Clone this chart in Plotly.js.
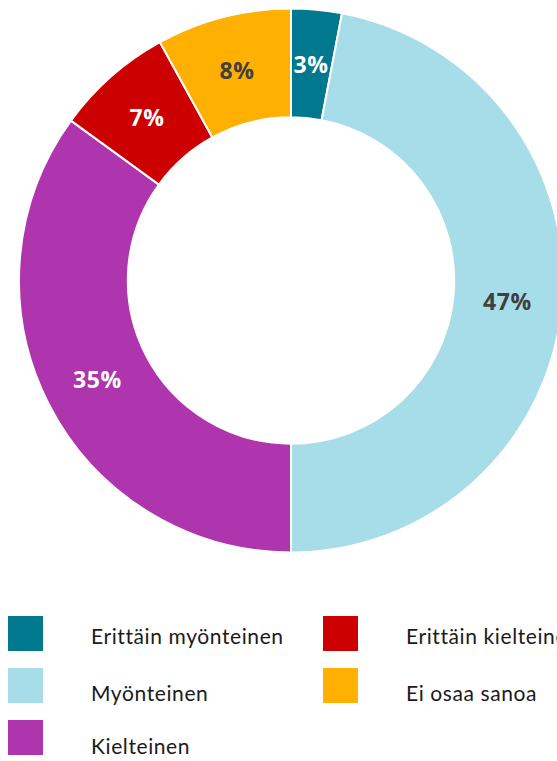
<!DOCTYPE html>
<html>
<head>
<meta charset="utf-8">
<script src="https://cdn.plot.ly/plotly-3.0.1.min.js"></script>
<style>
html,body{margin:0;padding:0;overflow:hidden;background:#fff;}
#chart{width:582px;height:761px;}
g.annotation text.annotation-text{letter-spacing:0.6px;}
</style>
</head>
<body>
<div id="chart"></div>
<script>
// Data
const categories = ["Erittäin myönteinen", "Myönteinen", "Kielteinen", "Erittäin kielteinen", "Ei osaa sanoa"];
const values = [3, 47, 35, 7, 8];
const colors = ["#00788E", "#A6DDE8", "#AE35AE", "#CC0000", "#FFB000"];
const labelColors = ["#ffffff", "#404040", "#ffffff", "#ffffff", "#404040"];

// Legend layout (column, row) per category
const legendCol = [0, 0, 0, 1, 1];
const legendRow = [0, 1, 2, 0, 1];

const W = 582, H = 761;
const colSquareX = [8, 323];
const colTextX = [89, 404];
const rowSquareTop = [616, 668, 720];
const rowTextY = [635, 692, 745];
const sq = 35;

// Pie geometry (pixels)
const pieLeft = 19, pieRight = 563, pieTop = 8, pieBottom = 553;
const hole = 0.6;

const trace = {
  type: "pie",
  labels: categories,
  values: values,
  sort: false,
  direction: "clockwise",
  rotation: 0,
  hole: hole,
  marker: {colors: colors, line: {color: "#ffffff", width: 2}},
  textinfo: "none",
  domain: {x: [pieLeft / W, pieRight / W], y: [1 - pieBottom / H, 1 - pieTop / H]},
  showlegend: false,
  hoverinfo: "none"
};

const shapes = [];
const annotations = [];

// Slice value labels at the middle of the ring, at each slice's mid angle
const total = values.reduce((a, b) => a + b, 0);
const pcx = (pieLeft + pieRight) / 2, pcy = (pieTop + pieBottom) / 2;
const R = Math.min(pieRight - pieLeft, pieBottom - pieTop) / 2;
const rMid = R * (1 + hole) / 2;
let cum = 0;
values.forEach((v, i) => {
  const a = 2 * Math.PI * (cum + v / 2) / total;
  cum += v;
  const px = pcx + rMid * Math.sin(a);
  const py = pcy - rMid * Math.cos(a);
  annotations.push({
    xref: "paper", yref: "paper", x: px / W, y: 1 - py / H,
    xanchor: "center", yanchor: "middle", showarrow: false,
    text: "<b>" + v + "%</b>",
    font: {family: "Open Sans, sans-serif", size: 23, color: labelColors[i]}
  });
});

categories.forEach((c, i) => {
  const cx = colSquareX[legendCol[i]];
  const top = rowSquareTop[legendRow[i]];
  shapes.push({
    type: "rect", xref: "paper", yref: "paper",
    x0: cx / W, x1: (cx + sq) / W,
    y0: 1 - (top + sq) / H, y1: 1 - top / H,
    fillcolor: colors[i], line: {width: 0}
  });
  annotations.push({
    xref: "paper", yref: "paper",
    x: colTextX[legendCol[i]] / W, y: 1 - rowTextY[legendRow[i]] / H,
    xanchor: "left", yanchor: "middle", align: "left",
    text: c, showarrow: false,
    font: {family: "Lato, sans-serif", size: 21, color: "#1a1a1a"}
  });
});

const layout = {
  width: W, height: H,
  margin: {l: 0, r: 0, t: 0, b: 0},
  paper_bgcolor: "#ffffff",
  showlegend: false,
  shapes: shapes,
  annotations: annotations
};

Plotly.newPlot("chart", [trace], layout, {displayModeBar: false, staticPlot: true});
</script>
</body>
</html>
